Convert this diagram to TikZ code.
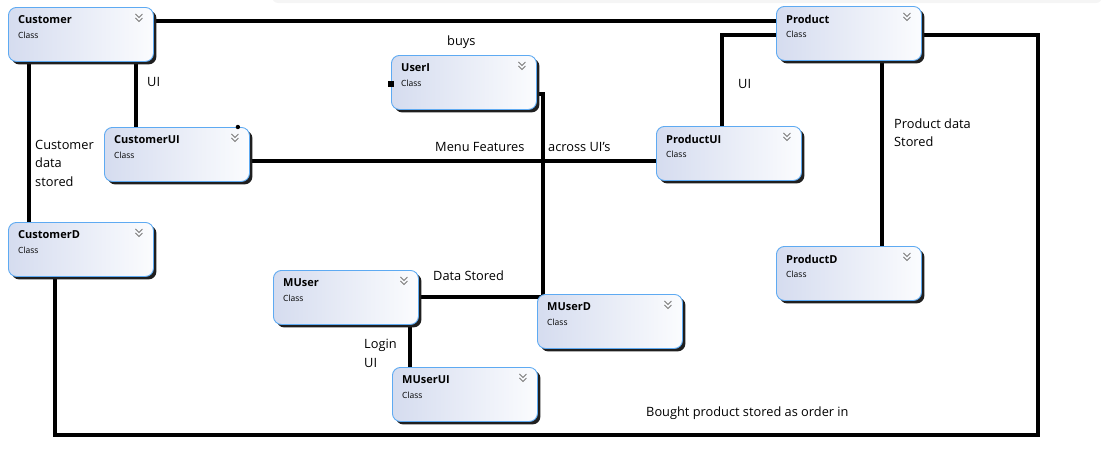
\documentclass[tikz,border=0pt]{standalone}
\usepackage{fontspec}
\setmainfont{Open Sans}
\usetikzlibrary{shadows}
\definecolor{boxline}{HTML}{5EAAF2}
\definecolor{boxleft}{HTML}{D5DCEF}
\definecolor{boxright}{HTML}{FBFCFE}
\definecolor{chevgray}{HTML}{7A7A7A}
\tikzset{
  classbox/.style={
    anchor=north west,
    minimum width=145pt,
    minimum height=54pt,
    rounded corners=8pt,
    draw=boxline, line width=0.9pt,
    left color=boxleft, right color=boxright,
    drop shadow={shadow xshift=3pt, shadow yshift=-3pt, fill=black!88, opacity=1},
  },
  classname/.style={
    anchor=west, inner sep=0pt,
    font=\fontsize{11}{12}\selectfont\bfseries,
  },
  classkind/.style={
    anchor=west, inner sep=0pt,
    font=\fontsize{8.5}{9}\selectfont,
  },
  chevron/.style={draw=chevgray, line width=0.9pt},
  link/.style={draw, line width=4.5pt},
  note/.style={
    anchor=west, inner sep=0pt, align=left,
    font=\fontsize{12.8}{18.5}\selectfont,
  },
}
\pgfdeclarelayer{back}
\pgfsetlayers{back, main}

\begin{document}
\begin{tikzpicture}[x=1pt, y=-1pt]
\useasboundingbox (0,0) rectangle (1117,453);
\fill[black!4, rounded corners=6pt] (272,-10) rectangle (1102,3);
\foreach \nm/\x/\y/\txt in {cust/8/7/Customer, custui/104/127/CustomerUI,
    custd/8/222/CustomerD, useri/391/55/UserI, muser/273/270/MUser,
    muserd/537/294/MUserD, muserui/392/367/MUserUI, prod/776/6/Product,
    produi/656/126/ProductUI, prodd/776/246/ProductD} {
  \node[classbox] (\nm) at (\x,\y) {};
  \node[classname] at ([xshift=10pt, yshift=-13pt]\nm.north west) {\txt};
  \node[classkind] at ([xshift=10pt, yshift=-28pt]\nm.north west) {Class};
  \foreach \d in {7,11}
    \draw[chevron] ([xshift=-18.5pt, yshift=-\d pt]\nm.north east) -- ++(3.5,3.5) -- ++(3.5,-3.5);
}
\coordinate (orderturn) at (1038,435);
\begin{pgfonlayer}{back}
  \draw[link] ([yshift=-14pt]cust.north east) -- ([yshift=-15pt]prod.north west);
  \draw[link] ([xshift=128pt]cust.south west) -- ([xshift=32pt]custui.north west);
  \draw[link] ([xshift=21pt]cust.south west) -- ([xshift=21pt]custd.north west);
  \draw[link] ([yshift=-34pt]custui.north east) -- ([yshift=-35pt]produi.north west);
  \draw[link] ([yshift=-39pt]useri.north east) -| ([xshift=6pt, yshift=-3pt]muserd.north west);
  \draw[link] ([yshift=-27pt]muser.north east) -- ([xshift=6pt, yshift=-3pt]muserd.north west);
  \draw[link] ([xshift=137pt]muser.south west) -- ([xshift=18pt]muserui.north west);
  \draw[link] ([yshift=-29pt]prod.north west) -| ([xshift=66pt]produi.north west);
  \draw[link] ([xshift=106pt]prod.south west) -- ([xshift=106pt]prodd.north west);
  \draw[link] ([yshift=-29pt]prod.north east) -| (orderturn) -| ([xshift=47pt]custd.south west);
\end{pgfonlayer}
\fill ([yshift=-29pt]useri.north west) +(-3,-3) rectangle +(3,3);
\fill ([xshift=-12pt]custui.north east) circle (2.2);

\node[note] (custui-lbl) at (147,82) {UI};
\node[note] (custd-lbl) at (35,163) {Customer\\data\\stored};
\node[note] (menu-lbl) at (435,147) {Menu Features};
\node[note] (across-lbl) at (548,147) {across UI's};
\node[note] (buys-lbl) at (447,42) {buys};
\node[note] (stored-lbl) at (433,276) {Data Stored};
\node[note] (login-lbl) at (364,353.5) {Login\\UI};
\node[note] (produi-lbl) at (738,84) {UI};
\node[note] (prodd-lbl) at (894,132.5) {Product data\\Stored};
\node[note] (order-lbl) at (646,413) {Bought product stored as order in};
\end{tikzpicture}
\end{document}
